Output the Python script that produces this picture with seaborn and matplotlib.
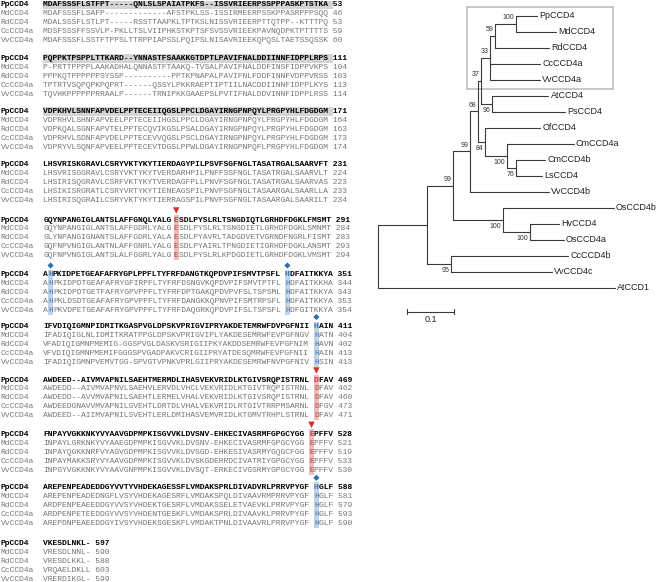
import numpy as np
import pandas as pd
import matplotlib
matplotlib.use('Agg')
import matplotlib.pyplot as plt
from matplotlib.patches import Rectangle
import seaborn as sns

# ---- alignment data (one string of 60 columns per block) ----
names = ['PpCCD4', 'MdCCD4', 'RdCCD4', 'CcCCD4a', 'VvCCD4a']

pp_seq = ['MDAFSSSFLSTFPT-----QNLSLSPAIATPKFS--ISSVRIEERPSSPPPASKPTSTKA',
          'PQPPKTPSPPLTTKARD--YNNASTFSAAKKGTDPTLPAVIFNALDDIINNFIDPPLRPS',
          'VDPKHVLSNNFAPVDELPPTECEIIQGSLPPCLDGAYIRNGPNPQYLPRGPYHLFDGDGM',
          'LHSVRISKGRAVLCSRYVKTYKYTIERDAGYPILPSVFSGFNGLTASATRGALSAARVFT',
          'GQYNPANGIGLANTSLAFFGNQLYALGESDLPYSLRLTSNGDIQTLGRHDFDGKLFMSMT',
          'AHPKIDPETGEAFAFRYGPLPPFLTYFRFDANGTKQPDVPIFSMVTPSFLHDFAITKKYA',
          'IFVDIQIGMNPIDMITKGASPVGLDPSKVPRIGVIPRYAKDETEMRWFDVPGFNIIHAIN',
          'AWDEED--AIVMVAPNILSAEHTMERMDLIHASVEKVRIDLKTGIVSRQPISTRNLDFAV',
          'FNPAYVGKKNKYVYAAVGDPMPKISGVVKLDVSNV-EHKECIVASRMFGPGCYGGEPFFV',
          'AREPENPEADEDDGYVVTYVHDEKAGESSFLVMDAKSPRLDIVADVRLPRRVPYGFHGLF',
          'VKESDLNKL-']
md_seq = ['MDAFSSSFLSAFP-------------AFSTPKLSS-ISSIRMEERPSSKPPASRPPPSQQ',
          'P-PRTTPPPPLAAKADHALQNNASTFTAAKQ-TVSALPAVIFNALDDFINSFIDPPVKPS',
          'VDPRHVLSHNFAPVEELPPTECEIIHGSLPPCLDGAYIRNGPNPQYLPRGPYHLFDGDGM',
          'LHSVRISGGRAVLCSRYVKTYKYTVERDARHPILPNFFSSFNGLTASATRGALSAARVLT',
          'GQYNPANGIGLANTSLAFFGDRLYALGESDLPYSLRLTSNGDIETLGRHDFDGKLSMNMT',
          'AHPKIDPDTGEAFAFRYGFIRPFLTYFRFDSNGVKQPDVPIFSMVTPTFLHDFAITKKHA',
          'IFADIQIGLNLIDMITKRATPPGLDPSKVPRIGVIPLYAKDESEMRWFEVPGFNGVHATN',
          'AWDEDD--AIVMVAPNVLSAEHVLERVDLVHCLVEKVRIDLKTGIVTRQPISTRNLDFAV',
          'INPAYLGRKNKYVYAAEGDPMPKISGVVKLDVSNV-EHKECIVASRMFGPGCYGGEPFFV',
          'AREPENPEADEDNGFLVSYVHDEKAGESRFLVMDAKSPQLDIVAAVRMPRRVPYGFHGLF',
          'VRESDLNNL-']
rd_seq = ['MDALSSSFLSTLPT-----RSSTTAAPKLTPTKSLNISSVRIEERPTTQTPP--KTTTPQ',
          'PPPKQTPPPPPPSYSSP----------PPTKPNAPALPAVIFNLFDDFINNFVDPPVRSS',
          'VDPKQALSGNFAPVTELPPTECQVIKGSLPSALDGAYIRNGPNPQYLPRGPYHLFDGDGM',
          'LHSIRISQGRAVLCSRFVKTYKYTVERDAGFPLLPNVFSGFNGLTASATRGALSAARVAS',
          'GLYNPANGIGNANTSLAFFGDRLYALAESDLPYAVRLTADGDVETVGRNDFNGRLFISMT',
          'AHPKIDPDTGETFAFRYGPVPPFLTYFRFDPTGAKQPDVPVFSLTSPSMLHDFAITKKYA',
          'VFADIQIGMNPMEMIG-GGSPVGLDASKVSRIGIIPKYAKDDSEMRWFEVPGFNIMHAVN',
          'AWDEDD--AVVMVAPNILSAEHTLERMELVHALVEKVRIDLKTGIVSRQPISTRNLDFAV',
          'INPAYQGKKNRFVYAGVGDPMPKISGVVKLDVSGD-EHKESIVASRMYGQGCFGGEPFFV',
          'ARDPENPEAEEDDGYVVSYVHDEKTGESRFLVMDAKSSELETVAEVKLPRRVPYGFHGLF',
          'VRESDLKKL-']
cc_seq = ['MDSFSSSFFSSVLP-PKLLTSLVIIPHKSTKPTSFSVSSVRIEEKPAVNQDPKTPTTTTS',
          'TPTRTVSQPQPKPQPRT------QSSYLPKKRAEPTIPTIILNACDDIINNFIDPPLKYS',
          'VDPRHVLSDNFAPVDELPPTECEVVQGSLPSCLDGAYIRNGPNPQYLPRGPYHLFDGDGM',
          'LHSIKISRGRATLCSRYVRTYKYTIENEAGSPILPNVFSGFNGLTASAARGALSAARLLA',
          'GQFNPVNGIGLANTNLAFFGNRLYALGESDLPYAIRLTPNGDIETIGRHDFDGKLANSMT',
          'AHPKLDSDTGEAFAFRYGPVPPFLTYFRFDANGKKQPNVPIFSMTRPSFLHDFAITKKYA',
          'VFVDIQIGMNPMEMIFGGGSPVGADPAKVCRIGIIPRYATDESQMRWFEVPGFNIIHAIN',
          'AWDEEDGNAVVMVAPNILSVEHTLDRTDLVHALVEKVRIDLRTGIVTRRPMSARNLDFGV',
          'INPAYMAKKSRYVYAAVGDPMPKISGVVKLDVSKGDERRDCIVATRIYGPGCYGGEPFFV',
          'ARDPENPETEEDDGYVVSYVHDENTGESKFLVMDAKSPRLDIVAAVKLPRRVPYGFHGLF',
          'VRQAELDKLL']
vv_seq = ['MDAFSSSFLSSTFTPPSLTTRPPIAPSSLPQIPSLNISAVRIEEKQPQSLTAETSSQSSK',
          'TQVHKPPPPPPRRAALP------TRNIPKKGAAEPSLPVTIFNALDDVINNFIDPPLRSS',
          'VDPRYVLSQNFAPVEELPPTECEVTDGSLPPWLDGAYIRNGPNPQFLPRGPYHLFDGDGM',
          'LHSIRISQGRAILCSRYVKTYKYTIERRAGSPILPNVFSGFNGLTASAARGALSAARILT',
          'GQFNPVNGIGLANTSLALFGGRLYALGESDLPYSLRLKPDGDIETLGRHDFDGKLVMSMT',
          'AHPKVDPETGEAFAFRYGPVPPFLTYFRFDAQGRKQPDVPIFSLTSPSFLHDFGITKKYA',
          'IFADIQIGMNPVEMVTGG-SPVGTVPNKVPRLGIIPRYAKDESEMRWFNVPGFNIVHSIN',
          'AWDEED--AIIMVAPNILSVEHTLERLDMIHASVEMVRIDLKTGMVTRHPLSTRNLDFAV',
          'INPGYVGKKNKYVYAAVGNPMPKISGVVKLDVSQT-ERKECIVGSRMYGPGCYGGEPFFV',
          'AREPDNPEAEEDDGYIVSYVHDEKSGESKFLVMDAKTPNLDIVAAVRLPRRVPYGFHGLF',
          'VRERDIKGL-']

pp_end = [53, 111, 171, 231, 291, 351, 411, 469, 528, 588, 597]
md_end = [46, 104, 164, 224, 284, 344, 404, 462, 521, 581, 590]
rd_end = [53, 103, 163, 223, 283, 343, 402, 460, 519, 579, 588]
cc_end = [59, 113, 173, 233, 293, 353, 413, 473, 533, 593, 603]
vv_end = [60, 114, 174, 234, 294, 354, 413, 471, 530, 590, 599]

# marked columns: block index, column index, kind
mark_block = [4, 5, 5, 6, 7, 8, 9]
mark_col = [27, 1, 50, 56, 56, 55, 56]
mark_kind = ['red', 'blue', 'blue', 'blue', 'red', 'red', 'blue']

# ---- tree data ----
leaf_order = ['PpCCD4', 'MdCCD4', 'RdCCD4', 'CcCCD4a', 'VvCCD4a', 'AtCCD4', 'PsCCD4',
              'OfCCD4', 'CmCCD4a', 'CmCCD4b', 'LsCCD4', 'VvCCD4b', 'OsCCD4b', 'HvCCD4',
              'OsCCD4a', 'CcCCD4b', 'VvCCD4c', 'AtCCD1']
edge_child = ['nX', 'AtCCD1', 'n99b', 'n95', 'n99a', 'nOs', 'n68', 'VvCCD4b', 'n37', 'n84',
              'n33', 'n96', 'n59', 'CcCCD4a', 'VvCCD4a', 'nPM', 'RdCCD4', 'PpCCD4', 'MdCCD4',
              'AtCCD4', 'PsCCD4', 'OfCCD4', 'nCm', 'CmCCD4a', 'n76', 'CmCCD4b', 'LsCCD4',
              'OsCCD4b', 'nHv', 'HvCCD4', 'OsCCD4a', 'CcCCD4b', 'VvCCD4c']
edge_parent = ['root', 'root', 'nX', 'nX', 'n99b', 'n99b', 'n99a', 'n99a', 'n68', 'n68',
               'n37', 'n37', 'n33', 'n33', 'n33', 'n59', 'n59', 'nPM', 'nPM',
               'n96', 'n96', 'n84', 'n84', 'nCm', 'nCm', 'n76', 'n76',
               'nOs', 'nOs', 'nHv', 'nHv', 'n95', 'n95']
edge_len = [0.104, 0.507, 0.057, 0.052, 0.036, 0.105, 0.017, 0.168, 0.006, 0.015,
            0.019, 0.024, 0.011, 0.107, 0.107, 0.044, 0.116, 0.045, 0.086,
            0.120, 0.156, 0.118, 0.046, 0.143, 0.019, 0.064, 0.057,
            0.238, 0.058, 0.062, 0.073, 0.251, 0.216]
boot_node = ['nPM', 'n59', 'n33', 'n37', 'n96', 'n68', 'n84', 'n99a', 'nCm', 'n76',
             'n99b', 'nOs', 'nHv', 'n95']
boot_value = [100, 59, 33, 37, 96, 68, 84, 99, 100, 76, 99, 100, 100, 95]
boot_below = [False, False, False, False, True, False, True, False, True, True,
              False, True, True, True]

# ---- figure ----
W, H = 657, 582
sns.set_theme(style='white')
plt.rcParams['font.family'] = ['Liberation Sans', 'DejaVu Sans']

fig = plt.figure(figsize=(W / 100, H / 100), dpi=100)
ax = fig.add_axes([0, 0, 1, 1])

mono = 'Liberation Mono'
fs_aln = 5.8
cw = 0.6 * fs_aln * 100 / 72  # char advance in px
x_seq = 43.3
block_y = [5, 58.3, 111.7, 164.5, 220, 275, 326.5, 380, 434.3, 487.3, 543.3]
row_dy = 8.95
grey = '#767676'
red_txt, red_bg = '#d23a32', '#e6c0c0'
blue_txt, blue_bg = '#3a78b8', '#c3d3e3'

all_seq = [pp_seq, md_seq, rd_seq, cc_seq, vv_seq]
all_end = [pp_end, md_end, rd_end, cc_end, vv_end]

mk_x, mk_y, mk_k = [], [], []
for b, y0 in enumerate(block_y):
    marks = sorted((c, k) for bb, c, k in zip(mark_block, mark_col, mark_kind) if bb == b)
    for c, k in marks:
        ax.add_patch(Rectangle((x_seq + c * cw, y0 - 5), cw, 4 * row_dy + 9.5,
                               color=red_bg if k == 'red' else blue_bg, lw=0, zorder=1))
        mk_x.append(x_seq + (c + 0.5) * cw)
        mk_y.append(y0 - 9.5)
        mk_k.append(k)
    for r in range(5):
        y = y0 + r * row_dy
        seq = all_seq[r][b]
        bold = r == 0
        col = 'black' if bold else grey
        fw = 'bold' if bold else 'normal'
        if bold and b < 3:
            ax.add_patch(Rectangle((x_seq, y - 4.4), len(seq) * cw, 8.8,
                                   color='#d4d4d4', lw=0, zorder=1))
        ax.text(0.5, y, names[r], family=mono, fontsize=fs_aln, color=col,
                fontweight=fw, va='center', ha='left', zorder=3)
        # split the row into runs so the marked residues get their own colour
        runs = []
        start = 0
        for c, k in marks:
            if c > start:
                runs.append((start, seq[start:c], col))
            runs.append((c, seq[c], red_txt if k == 'red' else blue_txt))
            start = c + 1
        runs.append((start, seq[start:] + ' ' + str(all_end[r][b]), col))
        for pos, txt, tc in runs:
            ax.text(x_seq + pos * cw, y, txt, family=mono, fontsize=fs_aln, color=tc,
                    fontweight=fw, va='center', ha='left', zorder=3)

mk = pd.DataFrame({'x': mk_x, 'y': mk_y, 'kind': mk_k})
sns.scatterplot(data=mk[mk.kind == 'red'], x='x', y='y', marker='v', s=22,
                color='#d9302c', edgecolor='none', ax=ax, zorder=4)
sns.scatterplot(data=mk[mk.kind == 'blue'], x='x', y='y', marker='D', s=10,
                color='#2f6fad', edgecolor='none', ax=ax, zorder=4)
ax.set_xlim(0, W)
ax.set_ylim(H, 0)
ax.axis('off')

# ---- tree layout ----
xpos = {'root': 0.0}
children = {}
for c, p, l in zip(edge_child, edge_parent, edge_len):
    xpos[c] = xpos[p] + l
    children.setdefault(p, []).append(c)
ypos = {n: i for i, n in enumerate(leaf_order)}


def node_y(n):
    if n not in ypos:
        ys = [node_y(c) for c in children[n]]
        ypos[n] = (min(ys) + max(ys)) / 2
    return ypos[n]


node_y('root')

seg = []
k = 0
for c, p in zip(edge_child, edge_parent):
    seg += [(xpos[p], ypos[c], k), (xpos[c], ypos[c], k)]
    k += 1
for n, ch in children.items():
    ys = [ypos[c] for c in ch]
    seg += [(xpos[n], min(ys), k), (xpos[n], max(ys), k)]
    k += 1
seg_df = pd.DataFrame(seg, columns=['x', 'y', 'seg'])

axt = fig.add_axes([0, 0, 1, 1])
axt.set_facecolor('none')
sns.lineplot(data=seg_df, x='x', y='y', units='seg', estimator=None, sort=False,
             color='#3a3a3a', linewidth=0.8, ax=axt)

px_unit = 467.0
root_px, leaf0_px, leaf_dy = 378.3, 15.7, 16.0
axt.set_xlim((0 - root_px) / px_unit, (W - root_px) / px_unit)
axt.set_ylim((H - leaf0_px) / leaf_dy, (0 - leaf0_px) / leaf_dy)
axt.axis('off')

for n in leaf_order:
    axt.text(xpos[n] + 0.005, ypos[n], n, fontsize=6.5, va='center', ha='left',
             color='#222222')

for n, v, below in zip(boot_node, boot_value, boot_below):
    axt.text(xpos[n] - 0.0036, ypos[n] + (0.45 if below else -0.38), str(v),
             fontsize=5, va='center', ha='right', color='#333333')

# boxed clade
axt.add_patch(Rectangle((0.189, -0.56), 0.314, 5.14, fill=False,
                        edgecolor='#c4c4c4', lw=1.3))

# scale bar
sb_x0, sb_y = 0.062, 18.5
axt.plot([sb_x0, sb_x0 + 0.1], [sb_y, sb_y], color='#3a3a3a', lw=0.8)
for xx in (sb_x0, sb_x0 + 0.1):
    axt.plot([xx, xx], [sb_y - 0.15, sb_y + 0.15], color='#3a3a3a', lw=0.8)
axt.text(sb_x0 + 0.05, sb_y + 0.5, '0.1', fontsize=6.5, ha='center', va='center',
         color='#222222')

fig.savefig('out.png', dpi=100)
